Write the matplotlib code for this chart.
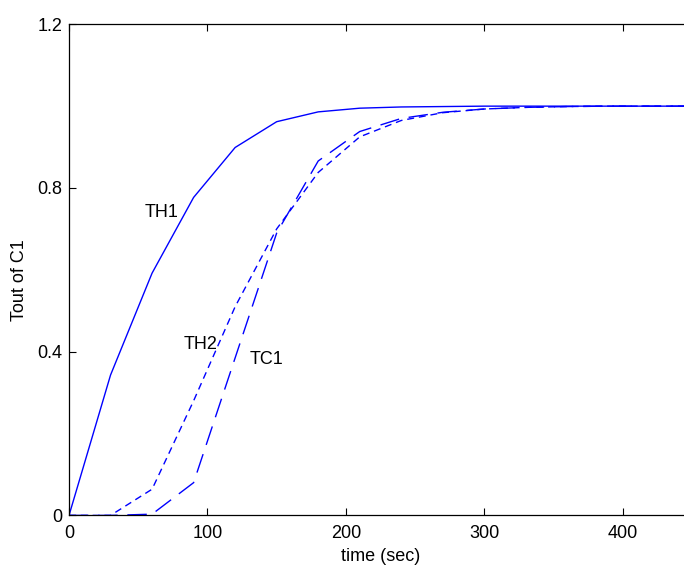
import matplotlib
matplotlib.use("Agg")
import matplotlib.pyplot as plt

# Outlet temperature response of C1 (normalised)
time = [0, 30, 60, 90, 120, 150, 180, 210, 240, 270, 300, 330, 360, 390, 420, 450]
th1 = [0, 0.343, 0.592, 0.777, 0.899, 0.962, 0.986, 0.995, 0.998, 0.999, 1.0, 1.0, 1.0, 1.0, 1.0, 1.0]
th2 = [0, 0, 0.064, 0.28, 0.51, 0.70, 0.838, 0.925, 0.965, 0.984, 0.993, 0.997, 0.999, 1.0, 1.0, 1.0]
tc1 = [0, 0, 0.003, 0.08, 0.385, 0.69, 0.866, 0.938, 0.970, 0.985, 0.993, 0.997, 0.999, 1.0, 1.0, 1.0]

x_ticks = [0, 100, 200, 300, 400]
y_ticks = [0, 0.4, 0.8, 1.2]

plt.rcParams['font.family'] = ['Liberation Sans', 'DejaVu Sans']
plt.rcParams['font.size'] = 13

fig = plt.figure(figsize=(6.84, 5.65), dpi=100)
ax = fig.add_axes([0.1009, 0.0878, 0.9108, 0.8692])

ax.plot(time, th1, color='blue', lw=1.0, linestyle='-')
ax.plot(time, th2, color='blue', lw=1.0, linestyle=(0, (5, 3.5)))
ax.plot(time, tc1, color='blue', lw=1.0, linestyle=(0, (14, 7)))

ax.text(67, 0.739, 'TH1', ha='center', va='center')
ax.text(95, 0.417, 'TH2', ha='center', va='center')
ax.text(143, 0.380, 'TC1', ha='center', va='center')

ax.set_xlim(0, 450)
ax.set_ylim(0, 1.2)
ax.set_xticks(x_ticks)
ax.set_yticks(y_ticks)
ax.set_yticklabels(['0', '0.4', '0.8', '1.2'])
ax.tick_params(direction='in', length=5, width=0.8, top=True, right=True)
ax.tick_params(axis='x', pad=7)
ax.tick_params(axis='y', pad=5)
for s in ax.spines.values():
    s.set_linewidth(0.9)

ax.set_xlabel('time (sec)', labelpad=4)
ax.set_ylabel('Tout of C1')
ax.yaxis.set_label_coords(-0.066, 0.48)

fig.savefig('out.png', dpi=100)
